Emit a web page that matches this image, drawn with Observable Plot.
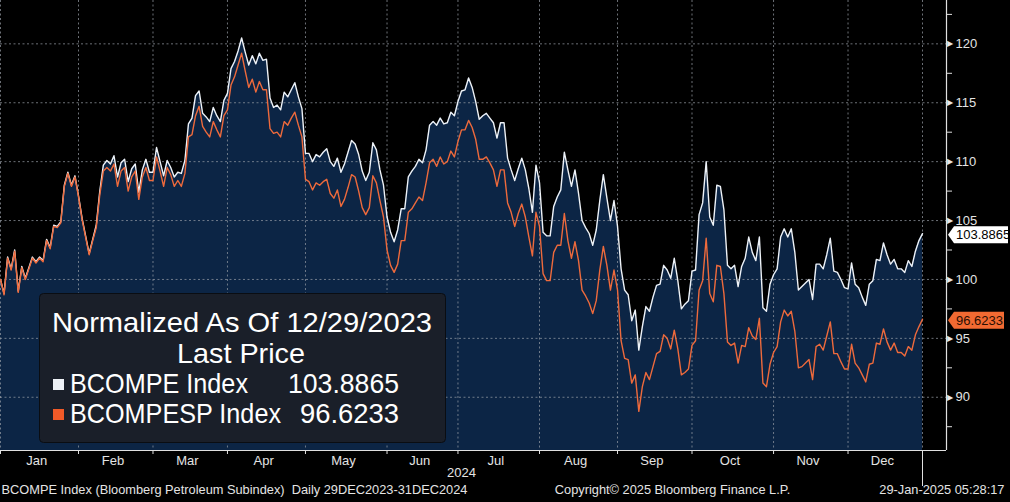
<!DOCTYPE html>
<html>
<head>
<meta charset="utf-8">
<script src="https://cdn.jsdelivr.net/npm/d3@7"></script>
<script src="https://cdn.jsdelivr.net/npm/@observablehq/plot@0.6"></script>
<style>
  html, body { margin: 0; padding: 0; background: #000; }
  #chart { width: 1010px; height: 502px; overflow: hidden; }
</style>
</head>
<body>
<div id="chart"></div>
<script>
// ---- Data (normalized to 100 on 29 Dec 2023), one value per trading day ----
const bcompe = [
  100,98.8,101.9,100.9,102.5,99.0,101.1,100.1,101.0,101.9,101.5,101.9,101.6,103.4,102.7,104.6,104.5,104.9,108.0,109.1,108.0,108.8,107.1,105.2,103.7,102.2,103.4,104.6,107.5,109.7,110.1,109.8,110.5,108.7,109.9,110.2,108.3,109.4,109.8,107.4,109.3,110.2,109.1,109.1,111.2,110.0,108.8,110.1,109.5,108.7,109.1,109.0,
  110.1,113.2,113.7,115.6,116.0,114.1,113.8,113.4,114.6,113.9,113.4,115.2,115.8,117.9,118.5,119.4,120.5,119.3,118.2,119.0,118.3,119.2,118.6,118.7,115.4,114.6,114.8,114.4,115.9,115.5,116.1,116.7,115.5,114.5,110.7,110.7,110.0,110.6,110.4,110.8,111.1,110.0,109.6,110.3,
  109.1,109.8,110.8,111.8,111.5,110.6,109.2,108.4,109.1,111.6,
  111.0,109.3,108.0,105.3,104.0,103.2,104.2,106.0,106.0,108.7,109.2,109.6,110.2,109.9,111.0,113.1,113.4,113.1,113.7,113.2,113.3,114.2,113.9,115.1,116.0,116.1,117.1,116.3,115.1,113.6,113.9,114.1,113.7,113.3,112.0,113.3,113.3,110.3,109.3,108.4,109.4,110.3,109.3,107.7,105.7,109.7,108.2,104.0,103.7,103.7,106.2,107.0,
  107.6,110.8,109.3,107.9,109.3,107.3,105.0,104.4,103.9,102.9,104.2,106.7,108.9,106.9,105.0,106.7,104.5,100.9,99.1,98.7,96.5,97.4,94.0,96.0,97.7,97.3,98.5,99.5,99.6,101.2,100.8,100.1,101.8,99.9,97.5,97.9,98.2,100.7,100.8,105.5,106.5,110.0,105.3,104.6,108.0,107.9,105.9,101.2,100.9,101.2,99.4,101.1,
  101.8,103.6,102.3,101.6,103.6,97.6,97.3,99.6,100.4,100.9,103.6,104.3,103.6,104.3,102.3,99.1,99.4,99.7,100.0,98.3,101.3,101.3,100.9,102.1,103.5,100.7,100.6,100.0,99.3,99.2,101.4,99.6,99.3,98.5,97.8,99.6,99.9,101.7,101.6,103.1,102.1,101.3,101.7,100.9,100.9,100.6,101.6,101.1,102.4,103.3,103.8865
];
const bcompesp = [
  100,98.7,101.8,100.8,102.4,98.9,101.0,100.0,100.9,101.8,101.4,101.8,101.5,103.3,102.6,104.5,104.4,104.8,107.9,109.0,107.9,108.7,107.0,105.1,103.6,102.1,103.3,104.4,107.2,109.2,109.5,109.2,109.8,107.9,109.2,109.5,107.5,108.7,109.2,106.8,108.7,109.5,108.4,108.4,110.4,109.2,107.9,109.5,108.9,107.9,108.4,107.9,
  109.0,112.1,112.3,113.9,114.7,113.0,112.5,112.1,113.4,112.7,112.1,113.9,114.4,116.5,117.2,118.2,119.2,117.7,116.3,117.0,115.9,116.8,116.1,116.1,112.8,112.4,112.5,112.1,113.4,113.1,113.7,114.2,113.1,112.1,108.5,108.3,107.6,108.2,108.0,108.3,108.5,107.3,106.9,107.6,
  106.2,106.8,107.8,108.9,108.7,107.5,106.1,105.5,106.1,108.8,
  108.2,106.7,105.3,102.5,101.2,100.6,101.3,103.3,103.3,105.7,106.0,106.5,107.0,106.7,108.2,109.9,110.2,109.6,110.4,109.8,110.0,110.9,110.4,111.7,112.7,112.7,113.5,112.9,111.9,110.2,110.2,110.4,109.9,109.3,107.9,109.3,109.3,106.5,105.7,104.5,105.6,106.4,105.3,103.6,102.0,105.7,104.5,100.5,99.9,99.9,102.3,102.9,
  102.9,105.6,103.3,101.8,103.2,101.6,99.1,98.6,98.0,97.1,98.2,100.8,102.8,101.2,99.1,100.8,99.1,94.8,93.3,93.2,91.2,91.9,88.8,90.9,92.1,91.5,92.6,93.7,93.9,95.3,95.0,94.1,95.7,94.1,91.9,92.1,92.4,94.4,94.8,99.1,99.9,103.5,98.8,98.1,101.2,101.1,98.8,94.7,94.4,94.6,92.9,94.4,
  94.3,95.9,95.2,94.9,96.7,91.2,90.9,92.8,93.8,94.3,96.4,97.4,96.9,97.3,95.6,92.5,92.6,92.9,93.2,91.5,94.3,94.5,94.0,95.2,96.4,93.7,93.7,93.0,92.4,92.4,94.5,92.9,92.5,91.9,91.3,92.8,92.9,94.6,94.5,95.8,94.7,94.0,94.6,93.8,93.8,93.5,94.3,94.0,95.3,96.0,96.6233
];
const seriesNames = ["BCOMPE Index", "BCOMPESP Index"];
const lastValues = [103.8865, 96.6233];
const monthNames = ["Jan","Feb","Mar","Apr","May","Jun","Jul","Aug","Sep","Oct","Nov","Dec"];
const yMajor = [90, 95, 100, 105, 110, 115, 120];
const yMinor = [87.5, 92.5, 97.5, 102.5, 107.5, 112.5, 117.5, 122.5];
const yearLabel = "2024";
const startDay = "2023-12-29";
const holidays = ["2024-01-01", "2024-12-25"];
const footerLeft = "BCOMPE Index (Bloomberg Petroleum Subindex)  Daily 29DEC2023-31DEC2024";
const footerMid = "Copyright\u00A9 2025 Bloomberg Finance L.P.";
const footerRight = "29-Jan-2025 05:28:17";
const legendTitle = "Normalized As Of 12/29/2023";
const legendSub = "Last Price";

// ---- trading-day calendar ----
const days = [new Date(startDay + "T00:00:00Z")];
for (let t = Date.UTC(2024, 0, 1); t <= Date.UTC(2024, 11, 31); t += 864e5) {
  const d = new Date(t);
  const wd = d.getUTCDay();
  if (wd === 0 || wd === 6) continue;
  if (holidays.includes(d.toISOString().slice(0, 10))) continue;
  days.push(d);
}
const n = Math.min(days.length, bcompe.length, bcompesp.length);
const rows = d3.range(n).map(i => ({i, date: days[i], w: bcompe[i], o: bcompesp[i]}));

// month boundaries: the last trading day of the previous month
const monthTicks = [];
for (let m = 0; m < 12; m++) {
  const idx = rows.findIndex(r => r.date.getUTCFullYear() === 2024 && r.date.getUTCMonth() === m);
  monthTicks.push(idx - 1);
}
const endTick = n - 1;
const allTicks = [...monthTicks, endTick];
const monthMids = monthTicks.map((t, k) => (t + allTicks[k + 1]) / 2 - 0.8);

const W = 1010, H = 502;
const mRight = 64, mBottom = 52;
const plotW = W - mRight;          // 946
const dataW = 922;                 // last data point position
const xMax = (n - 1) * plotW / dataW;
const yMin = 85.48, yMax = 123.68;

const WHITE = "#eef2f7", ORANGE = "#ee6a3c", NAVY = "#0c2545";
const GRID = {stroke: "#9aa0a8", strokeOpacity: 0.7, strokeDasharray: "2,2.5"};
const FONT = "'Liberation Sans', Arial, sans-serif";

const chart = Plot.plot({
  width: W, height: H,
  marginLeft: 0, marginRight: mRight, marginTop: 0, marginBottom: mBottom,
  style: {background: "#000", color: "#e4e4e4", fontFamily: FONT, overflow: "visible"},
  x: {type: "linear", domain: [0, xMax], label: null},
  y: {type: "linear", domain: [yMin, yMax], label: null},
  marks: [
    Plot.areaY(rows, {x: "i", y1: yMin, y2: "w", fill: NAVY}),
    Plot.ruleY(yMajor, GRID),
    Plot.ruleX(allTicks, GRID),
    Plot.lineY(rows, {x: "i", y: "w", stroke: WHITE, strokeWidth: 1.4}),
    Plot.lineY(rows, {x: "i", y: "o", stroke: ORANGE, strokeWidth: 1.4}),
    Plot.ruleX([xMax], {stroke: "#e0e0e0", strokeWidth: 1.2}),
    Plot.ruleY([yMin], {stroke: "#e0e0e0", strokeWidth: 1.2}),
    Plot.axisY(yMinor, {anchor: "right", tickSize: 5, tickFormat: () => "", label: null, stroke: "#e0e0e0"}),
    Plot.axisY(yMajor, {anchor: "right", tickSize: 0, tickPadding: 9, fontSize: 13, label: null}),
    Plot.text(yMajor, {y: d => d, frameAnchor: "right", text: () => "\u25B6", textAnchor: "start", dx: 0, fontSize: 8, fill: "#e8e8e8"}),
    Plot.axisX(allTicks, {anchor: "bottom", tickSize: 4, tickFormat: () => "", label: null, stroke: "#e0e0e0"}),
    Plot.axisX([endTick], {anchor: "bottom", tickSize: 36, tickFormat: () => "", label: null, stroke: "#e0e0e0"}),
    Plot.axisX(monthMids, {anchor: "bottom", tickSize: 0, tickPadding: 5, fontSize: 13, label: null,
      tickFormat: d => monthNames[monthMids.indexOf(d)]}),
    Plot.text([yearLabel], {frameAnchor: "bottom", dx: -12, dy: 26, fontSize: 13, fill: "#e4e4e4"}),
    Plot.text([footerLeft], {frameAnchor: "bottom-left", textAnchor: "start", dx: 1, dy: 43, fontSize: 12.8, fill: "#e4e4e4"}),
    Plot.text([footerMid], {frameAnchor: "bottom", dx: 199, dy: 43, fontSize: 12.8, fill: "#e4e4e4"}),
    Plot.text([footerRight], {frameAnchor: "bottom-right", textAnchor: "end", dx: 58, dy: 43, fontSize: 12.8, fill: "#e4e4e4"})
  ]
});
document.getElementById("chart").appendChild(chart);

// ---- overlays: last-value tags and legend ----
const svg = d3.select(chart);
const yS = chart.scale("y");
const tags = [
  {v: lastValues[0], fill: "#ffffff", text: "#000000", right: 1008},
  {v: lastValues[1], fill: "#f26a32", text: "#2a0e02", right: 1004}
];
tags.forEach(t => {
  const yc = yS.apply(t.v) + 1.5, h = 8.5, x0 = plotW + 2;
  svg.append("polygon")
    .attr("points", [[x0, yc], [x0 + 6, yc - h], [t.right, yc - h], [t.right, yc + h], [x0 + 6, yc + h]].map(p => p.join(",")).join(" "))
    .attr("fill", t.fill);
  svg.append("text").attr("x", x0 + 8).attr("y", yc).attr("dy", "0.36em")
    .attr("text-anchor", "start")
    .attr("font-family", FONT).attr("font-size", 13).attr("fill", t.text)
    .text(d3.format(".4f")(t.v));
});

const lg = svg.append("g").attr("font-family", FONT).attr("fill", "#ffffff").attr("text-anchor", "start");
lg.append("rect").attr("x", 39.5).attr("y", 293.5).attr("width", 406).attr("height", 149).attr("rx", 4)
  .attr("fill", "#1a1f29").attr("stroke", "#0a0d12");
function legendText(x, y, str, anchor, len) {
  return lg.append("text").attr("x", x).attr("y", y).attr("font-size", 28)
    .attr("text-anchor", anchor).attr("textLength", len).attr("lengthAdjust", "spacingAndGlyphs").text(str);
}
legendText(52, 332, legendTitle, "start", 380);
legendText(241, 363, legendSub, "middle", 128);
const legendColors = [WHITE, "#f05a28"];
const nameLens = [178, 211], valueLens = [111, 99];
seriesNames.forEach((name, k) => {
  const base = 393 + k * 30;
  lg.append("rect").attr("x", 53).attr("y", base - 14).attr("width", 11).attr("height", 11).attr("fill", legendColors[k]);
  legendText(70, base, name, "start", nameLens[k]);
  legendText(399, base, d3.format(".4f")(lastValues[k]), "end", valueLens[k]);
});
</script>
</body>
</html>
